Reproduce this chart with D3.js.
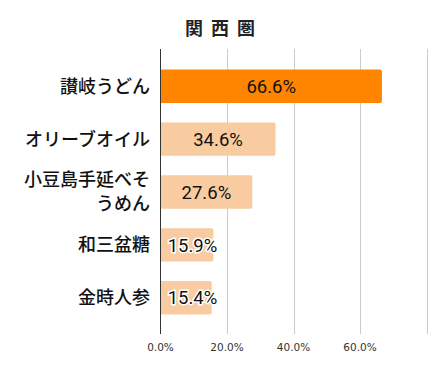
<!DOCTYPE html>
<html>
<head>
<meta charset="utf-8">
<script src="https://cdn.jsdelivr.net/npm/d3@7"></script>
<style>
  body { margin: 0; background: #fff; }
  svg { display: block; }
</style>
</head>
<body>
<div id="chart"></div>
<script>
var title = "関 西 圏";
var categories = ["讃岐うどん", "オリーブオイル", "小豆島手延べそうめん", "和三盆糖", "金時人参"];
var labelLines = [["讃岐うどん"], ["オリーブオイル"], ["小豆島手延べそ", "うめん"], ["和三盆糖"], ["金時人参"]];
var values = [66.6, 34.6, 27.6, 15.9, 15.4];
var ticks = [0, 20, 40, 60];
var gridTicks = [0, 20, 40, 60, 80];

var width = 441, height = 371;
var plotLeft = 160.5, plotRight = 426.5, plotTop = 50, plotBottom = 334;

var svg = d3.select("#chart").append("svg")
    .attr("width", width)
    .attr("height", height);

var x = d3.scaleLinear().domain([0, 80]).range([plotLeft, plotRight]);
var y = d3.scaleBand().domain(categories).range([plotTop, plotBottom]).padding(0.37);

// grid
svg.selectAll("line.grid").data(gridTicks.slice(1)).enter().append("line")
    .attr("class", "grid")
    .attr("x1", function(d) { return Math.round(x(d)) + 0.5; })
    .attr("x2", function(d) { return Math.round(x(d)) + 0.5; })
    .attr("y1", plotTop - 1)
    .attr("y2", plotBottom)
    .attr("stroke", "#cccccc")
    .attr("stroke-width", 1);

// bars
svg.selectAll("path.bar").data(values).enter().append("path")
    .attr("class", "bar")
    .attr("d", function(d, i) {
        var x0 = x(0), x1 = x(d), y0 = y(categories[i]), h = y.bandwidth(), r = 2;
        return "M" + x0 + "," + y0 + "H" + (x1 - r) + "Q" + x1 + "," + y0 + " " + x1 + "," + (y0 + r) +
            "V" + (y0 + h - r) + "Q" + x1 + "," + (y0 + h) + " " + (x1 - r) + "," + (y0 + h) + "H" + x0 + "Z";
    })
    .attr("fill", function(d, i) { return i == 0 ? "#ff8500" : "#f8cba0"; });

// axis line
svg.append("line")
    .attr("x1", plotLeft).attr("x2", plotLeft)
    .attr("y1", plotTop - 1).attr("y2", plotBottom)
    .attr("stroke", "#333")
    .attr("stroke-width", 1);

// value labels
svg.selectAll("text.val").data(values).enter().append("text")
    .attr("class", "val")
    .attr("x", function(d) { return Math.max((x(0) + x(d)) / 2, x(0) + 32); })
    .attr("y", function(d, i) { return y(categories[i]) + y.bandwidth() / 2; })
    .attr("dy", "0.36em")
    .attr("text-anchor", "middle")
    .attr("font-family", "Roboto, sans-serif")
    .attr("font-size", "18.5px")
    .attr("fill", "#111")
    .attr("stroke", function(d) { return x(d) - x(0) < 60 ? "#fff" : "none"; })
    .attr("stroke-width", 3)
    .attr("paint-order", "stroke")
    .text(function(d) { return d.toFixed(1) + "%"; });

// category labels
labelLines.forEach(function(lines, i) {
    var cy = y(categories[i]) + y.bandwidth() / 2;
    var lh = 24;
    var t = svg.append("text")
        .attr("text-anchor", "end")
        .attr("font-family", "'Noto Sans CJK JP', sans-serif")
        .attr("font-size", "18px")
        .attr("font-weight", 500)
        .attr("fill", "#111");
    lines.forEach(function(s, k) {
        t.append("tspan")
            .attr("x", 150)
            .attr("y", cy + (k - (lines.length - 1) / 2) * lh)
            .attr("dy", "0.36em")
            .text(s);
    });
});

// tick labels
svg.selectAll("text.tick").data(ticks).enter().append("text")
    .attr("class", "tick")
    .attr("x", function(d) { return x(d); })
    .attr("y", 351)
    .attr("text-anchor", "middle")
    .attr("font-family", "'DejaVu Sans', sans-serif")
    .attr("font-size", "10.5px")
    .attr("fill", "#333")
    .text(function(d) { return d.toFixed(1) + "%"; });

// title
svg.append("text")
    .attr("x", 221)
    .attr("y", 35)
    .attr("text-anchor", "middle")
    .attr("font-family", "'Noto Sans CJK JP', sans-serif")
    .attr("font-size", "18px")
    .attr("font-weight", "bold")
    .attr("letter-spacing", "2px")
    .attr("fill", "#222")
    .text(title);
</script>
</body>
</html>
